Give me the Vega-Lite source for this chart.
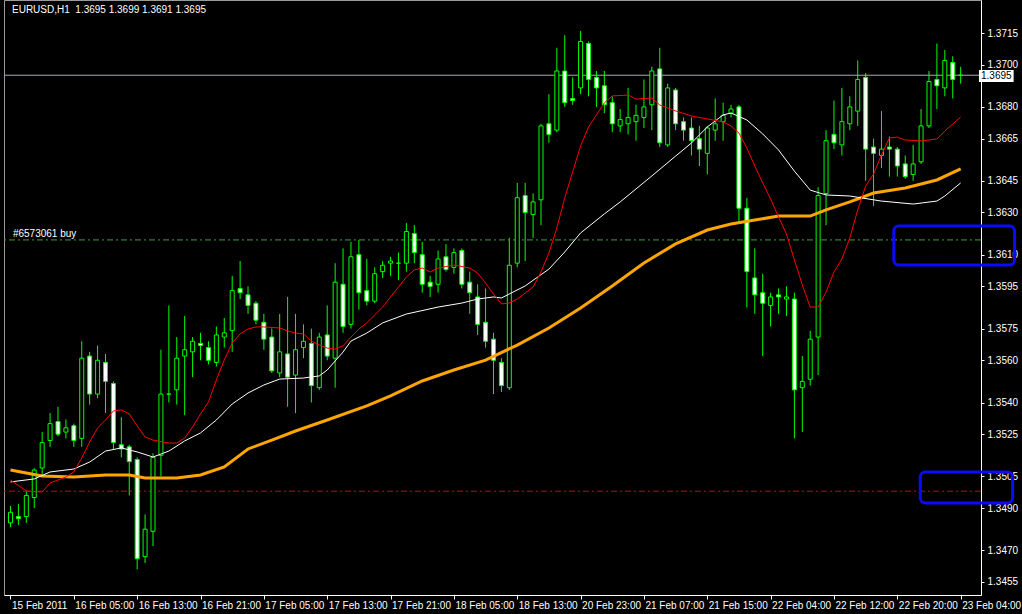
{
"$schema": "https://vega.github.io/schema/vega-lite/v6.json",
"width": 977, "height": 595,
"autosize": {"type": "none"},
"padding": {"left": 4, "top": 0, "right": 41, "bottom": 19},
"background": "#000000",
"config": {
 "view": {"stroke": "#9a9a9a", "strokeWidth": 1},
 "axis": {"grid": false, "labelFont": "Liberation Sans", "labelFontSize": 10, "labelColor": "#ffffff", "tickColor": "#ffffff", "domainColor": "#ffffff", "labelOverlap": false, "labelFlush": false, "labelBound": false},
 "axisY": {"labelOverlap": false},
 "axisRight": {"labelOverlap": false},
 "axisQuantitative": {"labelOverlap": false},
 "text": {"font": "Liberation Sans"}
},
"datasets": {
 "bars": [
{"i":0,"o":1.3483,"h":1.3491,"l":1.3481,"c":1.3488},
{"i":1,"o":1.3486,"h":1.3492,"l":1.3482,"c":1.3485},
{"i":2,"o":1.3486,"h":1.3498,"l":1.3483,"c":1.3496},
{"i":3,"o":1.3495,"h":1.3509,"l":1.3490,"c":1.3508},
{"i":4,"o":1.3509,"h":1.3526,"l":1.3505,"c":1.3521},
{"i":5,"o":1.3522,"h":1.3535,"l":1.3519,"c":1.3530},
{"i":6,"o":1.3531,"h":1.3538,"l":1.3524,"c":1.3525},
{"i":7,"o":1.3526,"h":1.3532,"l":1.3523,"c":1.3528},
{"i":8,"o":1.3529,"h":1.3530,"l":1.3519,"c":1.3522},
{"i":9,"o":1.3523,"h":1.3569,"l":1.3519,"c":1.3561},
{"i":10,"o":1.3562,"h":1.3564,"l":1.3539,"c":1.3544},
{"i":11,"o":1.3544,"h":1.3567,"l":1.3542,"c":1.3560},
{"i":12,"o":1.3559,"h":1.3563,"l":1.3535,"c":1.3550},
{"i":13,"o":1.3549,"h":1.3550,"l":1.3518,"c":1.3521},
{"i":14,"o":1.3520,"h":1.3533,"l":1.3514,"c":1.3518},
{"i":15,"o":1.3519,"h":1.3520,"l":1.3496,"c":1.3512},
{"i":16,"o":1.3513,"h":1.3514,"l":1.3461,"c":1.3466},
{"i":17,"o":1.3467,"h":1.3487,"l":1.3464,"c":1.3480},
{"i":18,"o":1.3479,"h":1.3516,"l":1.3472,"c":1.3514},
{"i":19,"o":1.3515,"h":1.3565,"l":1.3505,"c":1.3544},
{"i":20,"o":1.3544,"h":1.3586,"l":1.3540,"c":1.3544},
{"i":21,"o":1.3546,"h":1.3571,"l":1.3539,"c":1.3561},
{"i":22,"o":1.3562,"h":1.3581,"l":1.3534,"c":1.3565},
{"i":23,"o":1.3564,"h":1.3571,"l":1.3552,"c":1.3569},
{"i":24,"o":1.3568,"h":1.3573,"l":1.3560,"c":1.3567},
{"i":25,"o":1.3566,"h":1.3569,"l":1.3558,"c":1.3560},
{"i":26,"o":1.3559,"h":1.3576,"l":1.3557,"c":1.3572},
{"i":27,"o":1.3571,"h":1.3580,"l":1.3566,"c":1.3573},
{"i":28,"o":1.3574,"h":1.3600,"l":1.3564,"c":1.3593},
{"i":29,"o":1.3594,"h":1.3607,"l":1.3589,"c":1.3592},
{"i":30,"o":1.3591,"h":1.3595,"l":1.3582,"c":1.3586},
{"i":31,"o":1.3587,"h":1.3588,"l":1.3577,"c":1.3579},
{"i":32,"o":1.3578,"h":1.3582,"l":1.3565,"c":1.3570},
{"i":33,"o":1.3571,"h":1.3575,"l":1.3554,"c":1.3555},
{"i":34,"o":1.3554,"h":1.3582,"l":1.3552,"c":1.3564},
{"i":35,"o":1.3563,"h":1.3590,"l":1.3538,"c":1.3552},
{"i":36,"o":1.3553,"h":1.3582,"l":1.3535,"c":1.3565},
{"i":37,"o":1.3566,"h":1.3577,"l":1.3561,"c":1.3569},
{"i":38,"o":1.3568,"h":1.3575,"l":1.3540,"c":1.3548},
{"i":39,"o":1.3547,"h":1.3573,"l":1.3546,"c":1.3571},
{"i":40,"o":1.3572,"h":1.3586,"l":1.3560,"c":1.3562},
{"i":41,"o":1.3561,"h":1.3606,"l":1.3547,"c":1.3597},
{"i":42,"o":1.3596,"h":1.3613,"l":1.3573,"c":1.3576},
{"i":43,"o":1.3577,"h":1.3616,"l":1.3575,"c":1.3609},
{"i":44,"o":1.3610,"h":1.3617,"l":1.3584,"c":1.3592},
{"i":45,"o":1.3593,"h":1.3608,"l":1.3586,"c":1.3588},
{"i":46,"o":1.3588,"h":1.3604,"l":1.3587,"c":1.3601},
{"i":47,"o":1.3602,"h":1.3607,"l":1.3599,"c":1.3605},
{"i":48,"o":1.3606,"h":1.3609,"l":1.3600,"c":1.3607},
{"i":49,"o":1.3606,"h":1.3611,"l":1.3598,"c":1.3606},
{"i":50,"o":1.3606,"h":1.3625,"l":1.3602,"c":1.3621},
{"i":51,"o":1.3620,"h":1.3624,"l":1.3606,"c":1.3611},
{"i":52,"o":1.3610,"h":1.3616,"l":1.3592,"c":1.3596},
{"i":53,"o":1.3597,"h":1.3600,"l":1.3590,"c":1.3595},
{"i":54,"o":1.3596,"h":1.3612,"l":1.3592,"c":1.3608},
{"i":55,"o":1.3609,"h":1.3615,"l":1.3602,"c":1.3603},
{"i":56,"o":1.3604,"h":1.3613,"l":1.3601,"c":1.3611},
{"i":57,"o":1.3612,"h":1.3613,"l":1.3594,"c":1.3596},
{"i":58,"o":1.3597,"h":1.3602,"l":1.3582,"c":1.3592},
{"i":59,"o":1.3590,"h":1.3596,"l":1.3572,"c":1.3577},
{"i":60,"o":1.3578,"h":1.3594,"l":1.3566,"c":1.3569},
{"i":61,"o":1.3570,"h":1.3573,"l":1.3544,"c":1.3560},
{"i":62,"o":1.3559,"h":1.3561,"l":1.3545,"c":1.3548},
{"i":63,"o":1.3547,"h":1.3618,"l":1.3546,"c":1.3605},
{"i":64,"o":1.3606,"h":1.3644,"l":1.3604,"c":1.3637},
{"i":65,"o":1.3638,"h":1.3644,"l":1.3607,"c":1.3630},
{"i":66,"o":1.3629,"h":1.3639,"l":1.3618,"c":1.3635},
{"i":67,"o":1.3636,"h":1.3672,"l":1.3624,"c":1.3671},
{"i":68,"o":1.3672,"h":1.3686,"l":1.3663,"c":1.3667},
{"i":69,"o":1.3669,"h":1.3708,"l":1.3668,"c":1.3697},
{"i":70,"o":1.3697,"h":1.3714,"l":1.3680,"c":1.3682},
{"i":71,"o":1.3684,"h":1.3694,"l":1.3681,"c":1.3683},
{"i":72,"o":1.3689,"h":1.3716,"l":1.3686,"c":1.3711},
{"i":73,"o":1.3710,"h":1.3711,"l":1.3685,"c":1.3693},
{"i":74,"o":1.3694,"h":1.3697,"l":1.3680,"c":1.3689},
{"i":75,"o":1.3690,"h":1.3697,"l":1.3677,"c":1.3681},
{"i":76,"o":1.3682,"h":1.3685,"l":1.3668,"c":1.3672},
{"i":77,"o":1.3671,"h":1.3679,"l":1.3668,"c":1.3674},
{"i":78,"o":1.3672,"h":1.3689,"l":1.3667,"c":1.3675},
{"i":79,"o":1.3673,"h":1.3681,"l":1.3664,"c":1.3676},
{"i":80,"o":1.3675,"h":1.3693,"l":1.3670,"c":1.3680},
{"i":81,"o":1.3681,"h":1.3699,"l":1.3669,"c":1.3697},
{"i":82,"o":1.3698,"h":1.3708,"l":1.3661,"c":1.3663},
{"i":83,"o":1.3662,"h":1.3691,"l":1.3661,"c":1.3689},
{"i":84,"o":1.3688,"h":1.3689,"l":1.3669,"c":1.3672},
{"i":85,"o":1.3673,"h":1.3675,"l":1.3664,"c":1.3669},
{"i":86,"o":1.3670,"h":1.3675,"l":1.3657,"c":1.3664},
{"i":87,"o":1.3665,"h":1.3671,"l":1.3652,"c":1.3660},
{"i":88,"o":1.3658,"h":1.3671,"l":1.3648,"c":1.3670},
{"i":89,"o":1.3669,"h":1.3684,"l":1.3664,"c":1.3672},
{"i":90,"o":1.3673,"h":1.3682,"l":1.3664,"c":1.3676},
{"i":91,"o":1.3677,"h":1.3681,"l":1.3675,"c":1.3679},
{"i":92,"o":1.3680,"h":1.3681,"l":1.3625,"c":1.3632},
{"i":93,"o":1.3632,"h":1.3637,"l":1.3585,"c":1.3602},
{"i":94,"o":1.3599,"h":1.3613,"l":1.3582,"c":1.3591},
{"i":95,"o":1.3592,"h":1.3601,"l":1.3562,"c":1.3587},
{"i":96,"o":1.3586,"h":1.3592,"l":1.3576,"c":1.3590},
{"i":97,"o":1.3591,"h":1.3594,"l":1.3582,"c":1.3590},
{"i":98,"o":1.3589,"h":1.3595,"l":1.3581,"c":1.3590},
{"i":99,"o":1.3589,"h":1.3592,"l":1.3523,"c":1.3546},
{"i":100,"o":1.3547,"h":1.3562,"l":1.3526,"c":1.3550},
{"i":101,"o":1.3551,"h":1.3574,"l":1.3548,"c":1.3570},
{"i":102,"o":1.3571,"h":1.3642,"l":1.3553,"c":1.3638},
{"i":103,"o":1.3639,"h":1.3669,"l":1.3624,"c":1.3664},
{"i":104,"o":1.3667,"h":1.3683,"l":1.3660,"c":1.3663},
{"i":105,"o":1.3662,"h":1.3689,"l":1.3657,"c":1.3673},
{"i":106,"o":1.3672,"h":1.3685,"l":1.3669,"c":1.3680},
{"i":107,"o":1.3678,"h":1.3702,"l":1.3671,"c":1.3693},
{"i":108,"o":1.3694,"h":1.3696,"l":1.3645,"c":1.3660},
{"i":109,"o":1.3661,"h":1.3665,"l":1.3633,"c":1.3658},
{"i":110,"o":1.3657,"h":1.3678,"l":1.3651,"c":1.3660},
{"i":111,"o":1.3661,"h":1.3666,"l":1.3647,"c":1.3660},
{"i":112,"o":1.3660,"h":1.3661,"l":1.3647,"c":1.3652},
{"i":113,"o":1.3653,"h":1.3657,"l":1.3646,"c":1.3647},
{"i":114,"o":1.3648,"h":1.3662,"l":1.3645,"c":1.3653},
{"i":115,"o":1.3654,"h":1.3679,"l":1.3653,"c":1.3671},
{"i":116,"o":1.3671,"h":1.3697,"l":1.3670,"c":1.3692},
{"i":117,"o":1.3693,"h":1.3710,"l":1.3679,"c":1.3690},
{"i":118,"o":1.3689,"h":1.3707,"l":1.3685,"c":1.3702},
{"i":119,"o":1.3701,"h":1.3704,"l":1.3684,"c":1.3693},
{"i":120,"o":1.3695,"h":1.3699,"l":1.3691,"c":1.3695}
 ],
 "ma": [
{"s":"slow","i":0,"v":1.35080},{"s":"slow","i":4,"v":1.35052},{"s":"slow","i":8,"v":1.35047},{"s":"slow","i":12,"v":1.35057},{"s":"slow","i":15,"v":1.35057},{"s":"slow","i":17,"v":1.35043},{"s":"slow","i":21,"v":1.35043},{"s":"slow","i":24,"v":1.35057},{"s":"slow","i":27,"v":1.35095},{"s":"slow","i":30,"v":1.35180},{"s":"slow","i":33,"v":1.35222},{"s":"slow","i":36,"v":1.35265},{"s":"slow","i":40,"v":1.35317},{"s":"slow","i":45,"v":1.35384},{"s":"slow","i":48,"v":1.35431},{"s":"slow","i":52,"v":1.35502},{"s":"slow","i":56,"v":1.35554},{"s":"slow","i":60,"v":1.35601},{"s":"slow","i":64,"v":1.35672},{"s":"slow","i":68,"v":1.35753},{"s":"slow","i":72,"v":1.35848},{"s":"slow","i":76,"v":1.35952},{"s":"slow","i":80,"v":1.36061},{"s":"slow","i":84,"v":1.36151},{"s":"slow","i":88,"v":1.36217},{"s":"slow","i":91,"v":1.36245},{"s":"slow","i":94,"v":1.36264},{"s":"slow","i":97,"v":1.36283},{"s":"slow","i":101,"v":1.36283},{"s":"slow","i":103,"v":1.36312},{"s":"slow","i":106,"v":1.36350},{"s":"slow","i":109,"v":1.36392},{"s":"slow","i":113,"v":1.36416},{"s":"slow","i":117,"v":1.36454},{"s":"slow","i":120,"v":1.36506},
{"s":"mid","i":0,"v":1.35024},{"s":"mid","i":3,"v":1.35038},{"s":"mid","i":5,"v":1.35071},{"s":"mid","i":8,"v":1.35085},{"s":"mid","i":10,"v":1.35118},{"s":"mid","i":12,"v":1.35170},{"s":"mid","i":14,"v":1.35185},{"s":"mid","i":16,"v":1.35166},{"s":"mid","i":18,"v":1.35142},{"s":"mid","i":20,"v":1.35170},{"s":"mid","i":22,"v":1.35218},{"s":"mid","i":24,"v":1.35256},{"s":"mid","i":26,"v":1.35317},{"s":"mid","i":28,"v":1.35393},{"s":"mid","i":30,"v":1.35445},{"s":"mid","i":32,"v":1.35483},{"s":"mid","i":34,"v":1.35511},{"s":"mid","i":37,"v":1.35516},{"s":"mid","i":39,"v":1.35526},{"s":"mid","i":40,"v":1.35554},{"s":"mid","i":42,"v":1.35639},{"s":"mid","i":43,"v":1.35691},{"s":"mid","i":45,"v":1.35729},{"s":"mid","i":47,"v":1.35777},{"s":"mid","i":50,"v":1.35819},{"s":"mid","i":54,"v":1.35852},{"s":"mid","i":57,"v":1.35871},{"s":"mid","i":59,"v":1.35890},{"s":"mid","i":61,"v":1.35900},{"s":"mid","i":62,"v":1.35895},{"s":"mid","i":63,"v":1.35914},{"s":"mid","i":65,"v":1.35952},{"s":"mid","i":68,"v":1.36032},{"s":"mid","i":70,"v":1.36113},{"s":"mid","i":72,"v":1.36203},{"s":"mid","i":75,"v":1.36293},{"s":"mid","i":77,"v":1.36350},{"s":"mid","i":81,"v":1.36473},{"s":"mid","i":84,"v":1.36567},{"s":"mid","i":86,"v":1.36629},{"s":"mid","i":88,"v":1.36705},{"s":"mid","i":90,"v":1.36762},{"s":"mid","i":91,"v":1.36771},{"s":"mid","i":93,"v":1.36738},{"s":"mid","i":95,"v":1.36672},{"s":"mid","i":97,"v":1.36596},{"s":"mid","i":99,"v":1.36496},{"s":"mid","i":101,"v":1.36406},{"s":"mid","i":103,"v":1.36383},{"s":"mid","i":106,"v":1.36378},{"s":"mid","i":110,"v":1.36354},{"s":"mid","i":114,"v":1.36340},{"s":"mid","i":117,"v":1.36354},{"s":"mid","i":118,"v":1.36378},{"s":"mid","i":120,"v":1.36440},
{"s":"fast","i":0,"v":1.35033},{"s":"fast","i":2,"v":1.34981},{"s":"fast","i":4,"v":1.34976},{"s":"fast","i":5,"v":1.35019},{"s":"fast","i":7,"v":1.35047},{"s":"fast","i":8,"v":1.35071},{"s":"fast","i":9,"v":1.35137},{"s":"fast","i":10,"v":1.35213},{"s":"fast","i":11,"v":1.35279},{"s":"fast","i":12,"v":1.35317},{"s":"fast","i":13,"v":1.35360},{"s":"fast","i":14,"v":1.35365},{"s":"fast","i":15,"v":1.35346},{"s":"fast","i":16,"v":1.35289},{"s":"fast","i":17,"v":1.35237},{"s":"fast","i":18,"v":1.35222},{"s":"fast","i":20,"v":1.35208},{"s":"fast","i":21,"v":1.35208},{"s":"fast","i":22,"v":1.35232},{"s":"fast","i":23,"v":1.35284},{"s":"fast","i":24,"v":1.35346},{"s":"fast","i":25,"v":1.35402},{"s":"fast","i":26,"v":1.35507},{"s":"fast","i":27,"v":1.35601},{"s":"fast","i":28,"v":1.35682},{"s":"fast","i":29,"v":1.35725},{"s":"fast","i":30,"v":1.35748},{"s":"fast","i":31,"v":1.35758},{"s":"fast","i":32,"v":1.35758},{"s":"fast","i":34,"v":1.35753},{"s":"fast","i":35,"v":1.35739},{"s":"fast","i":36,"v":1.35729},{"s":"fast","i":37,"v":1.35725},{"s":"fast","i":38,"v":1.35691},{"s":"fast","i":39,"v":1.35672},{"s":"fast","i":40,"v":1.35658},{"s":"fast","i":41,"v":1.35653},{"s":"fast","i":42,"v":1.35668},{"s":"fast","i":43,"v":1.35710},{"s":"fast","i":44,"v":1.35748},{"s":"fast","i":45,"v":1.35777},{"s":"fast","i":46,"v":1.35815},{"s":"fast","i":47,"v":1.35852},{"s":"fast","i":48,"v":1.35900},{"s":"fast","i":49,"v":1.35947},{"s":"fast","i":50,"v":1.35994},{"s":"fast","i":51,"v":1.36028},{"s":"fast","i":52,"v":1.36037},{"s":"fast","i":53,"v":1.36018},{"s":"fast","i":54,"v":1.36037},{"s":"fast","i":56,"v":1.36051},{"s":"fast","i":58,"v":1.36037},{"s":"fast","i":59,"v":1.36013},{"s":"fast","i":60,"v":1.35966},{"s":"fast","i":61,"v":1.35914},{"s":"fast","i":62,"v":1.35867},{"s":"fast","i":63,"v":1.35871},{"s":"fast","i":64,"v":1.35890},{"s":"fast","i":66,"v":1.35947},{"s":"fast","i":67,"v":1.36018},{"s":"fast","i":68,"v":1.36108},{"s":"fast","i":69,"v":1.36227},{"s":"fast","i":70,"v":1.36369},{"s":"fast","i":71,"v":1.36492},{"s":"fast","i":72,"v":1.36615},{"s":"fast","i":73,"v":1.36705},{"s":"fast","i":74,"v":1.36762},{"s":"fast","i":75,"v":1.36819},{"s":"fast","i":76,"v":1.36852},{"s":"fast","i":78,"v":1.36856},{"s":"fast","i":79,"v":1.36837},{"s":"fast","i":81,"v":1.36842},{"s":"fast","i":82,"v":1.36809},{"s":"fast","i":84,"v":1.36781},{"s":"fast","i":86,"v":1.36757},{"s":"fast","i":88,"v":1.36743},{"s":"fast","i":90,"v":1.36729},{"s":"fast","i":91,"v":1.36710},{"s":"fast","i":92,"v":1.36676},{"s":"fast","i":93,"v":1.36605},{"s":"fast","i":94,"v":1.36520},{"s":"fast","i":95,"v":1.36440},{"s":"fast","i":96,"v":1.36364},{"s":"fast","i":97,"v":1.36279},{"s":"fast","i":98,"v":1.36198},{"s":"fast","i":99,"v":1.36075},{"s":"fast","i":100,"v":1.35957},{"s":"fast","i":101,"v":1.35852},{"s":"fast","i":102,"v":1.35852},{"s":"fast","i":103,"v":1.35923},{"s":"fast","i":104,"v":1.36018},{"s":"fast","i":105,"v":1.36080},{"s":"fast","i":106,"v":1.36179},{"s":"fast","i":107,"v":1.36312},{"s":"fast","i":108,"v":1.36425},{"s":"fast","i":109,"v":1.36482},{"s":"fast","i":110,"v":1.36572},{"s":"fast","i":111,"v":1.36653},{"s":"fast","i":112,"v":1.36657},{"s":"fast","i":113,"v":1.36643},{"s":"fast","i":115,"v":1.36639},{"s":"fast","i":117,"v":1.36648},{"s":"fast","i":118,"v":1.36686},{"s":"fast","i":120,"v":1.36752}
 ],
 "levels": [
  {"k":"bid","p":1.3695},
  {"k":"buy","p":1.3617},
  {"k":"sl","p":1.3498}
 ],
 "notes": [
  {"i":0.19,"p":1.37259,"t":"EURUSD,H1\u00a0 1.3695 1.3699 1.3691 1.3695"},
  {"i":0.31,"p":1.36196,"t":"#6573061 buy"}
 ],
 "pricebox": [
  {"i":122.31,"i2":126.69,"p":1.36975,"p2":1.36918,"pm":1.36946,"im":124.5,"t":"1.3695"}
 ],
 "boxes": [
  {"i":111.56,"i2":126.81,"p":1.36236,"p2":1.36051},
  {"i":114.9,"i2":126.56,"p":1.35071,"p2":1.34924}
 ]
},
"layer": [
 {
  "data": {"name": "bars"},
  "mark": {"type": "rule", "color": "#00ff00", "strokeWidth": 1},
  "encoding": {
   "x": {"field": "i", "type": "quantitative", "title": null,
         "scale": {"domain": [-0.1875, 121.9375], "nice": false, "zero": false},
         "axis": {"orient": "bottom", "values": [0,8,16,24,32,40,48,56,64,72,80,88,96,104,112,120],
                  "labelExpr": "['15 Feb 2011','16 Feb 05:00','16 Feb 13:00','16 Feb 21:00','17 Feb 05:00','17 Feb 13:00','17 Feb 21:00','18 Feb 05:00','18 Feb 13:00','20 Feb 23:00','21 Feb 07:00','21 Feb 15:00','22 Feb 04:00','22 Feb 12:00','22 Feb 20:00','23 Feb 04:00'][round(datum.value/8)]",
                  "labelAlign": "left", "labelBaseline": "top", "labelPadding": 1, "labelOffset": 1, "tickSize": 4, "title": null, "labelOverlap": false}},
   "y": {"field": "l", "type": "quantitative", "title": null,
         "scale": {"domain": [1.344884, 1.373063], "nice": false, "zero": false},
         "axis": {"orient": "right", "values": [1.3715,1.37,1.368,1.3665,1.3645,1.363,1.361,1.3595,1.3575,1.356,1.354,1.3525,1.3505,1.349,1.347,1.3455],
                  "format": ".4f", "tickSize": 3, "labelPadding": 3, "labelBaseline": "middle", "title": null, "labelOverlap": false}},
   "y2": {"field": "h"}
  }
 },
 {
  "data": {"name": "levels"},
  "transform": [{"filter": "datum.k == 'bid'"}],
  "mark": {"type": "rule", "color": "#a8a8b8", "strokeWidth": 1},
  "encoding": {"y": {"field": "p", "type": "quantitative", "title": null, "scale": {"domain": [1.344884, 1.373063], "nice": false, "zero": false},
   "axis": {"orient": "right", "values": [1.3715,1.37,1.368,1.3665,1.3645,1.363,1.361,1.3595,1.3575,1.356,1.354,1.3525,1.3505,1.349,1.347,1.3455], "format": ".4f", "tickSize": 3, "labelPadding": 3, "labelBaseline": "middle", "title": null, "labelOverlap": false}}}
 },
 {
  "data": {"name": "levels"},
  "transform": [{"filter": "datum.k == 'buy'"}],
  "mark": {"type": "rule", "color": "#3aa03a", "strokeWidth": 1, "strokeDash": [6,3,2,3]},
  "encoding": {"y": {"field": "p", "type": "quantitative", "title": null, "scale": {"domain": [1.344884, 1.373063], "nice": false, "zero": false},
   "axis": {"orient": "right", "values": [1.3715,1.37,1.368,1.3665,1.3645,1.363,1.361,1.3595,1.3575,1.356,1.354,1.3525,1.3505,1.349,1.347,1.3455], "format": ".4f", "tickSize": 3, "labelPadding": 3, "labelBaseline": "middle", "title": null, "labelOverlap": false}}}
 },
 {
  "data": {"name": "levels"},
  "transform": [{"filter": "datum.k == 'sl'"}],
  "mark": {"type": "rule", "color": "#c80000", "strokeWidth": 1, "strokeDash": [6,3,2,3]},
  "encoding": {"y": {"field": "p", "type": "quantitative", "title": null, "scale": {"domain": [1.344884, 1.373063], "nice": false, "zero": false},
   "axis": {"orient": "right", "values": [1.3715,1.37,1.368,1.3665,1.3645,1.363,1.361,1.3595,1.3575,1.356,1.354,1.3525,1.3505,1.349,1.347,1.3455], "format": ".4f", "tickSize": 3, "labelPadding": 3, "labelBaseline": "middle", "title": null, "labelOverlap": false}}}
 },
 {
  "data": {"name": "bars"},
  "mark": {"type": "bar", "size": 4, "stroke": "#00ff00", "strokeWidth": 1},
  "encoding": {
   "x": {"field": "i", "type": "quantitative", "title": null, "scale": {"domain": [-0.1875, 121.9375], "nice": false, "zero": false}},
   "y": {"field": "o", "type": "quantitative", "title": null, "scale": {"domain": [1.344884, 1.373063], "nice": false, "zero": false},
   "axis": {"orient": "right", "values": [1.3715,1.37,1.368,1.3665,1.3645,1.363,1.361,1.3595,1.3575,1.356,1.354,1.3525,1.3505,1.349,1.347,1.3455], "format": ".4f", "tickSize": 3, "labelPadding": 3, "labelBaseline": "middle", "title": null, "labelOverlap": false}},
   "y2": {"field": "c"},
   "fill": {"condition": {"test": "datum.o > datum.c", "value": "#ffffff"}, "value": "#000000"}
  }
 },
 {
  "data": {"name": "ma"},
  "transform": [{"filter": "datum.s == 'slow'"}],
  "mark": {"type": "line", "interpolate": "linear", "color": "#ffa500", "strokeWidth": 3},
  "encoding": {
   "x": {"field": "i", "type": "quantitative", "title": null, "scale": {"domain": [-0.1875, 121.9375], "nice": false, "zero": false}},
   "y": {"field": "v", "type": "quantitative", "title": null, "scale": {"domain": [1.344884, 1.373063], "nice": false, "zero": false},
   "axis": {"orient": "right", "values": [1.3715,1.37,1.368,1.3665,1.3645,1.363,1.361,1.3595,1.3575,1.356,1.354,1.3525,1.3505,1.349,1.347,1.3455], "format": ".4f", "tickSize": 3, "labelPadding": 3, "labelBaseline": "middle", "title": null, "labelOverlap": false}}
  }
 },
 {
  "data": {"name": "ma"},
  "transform": [{"filter": "datum.s == 'mid'"}],
  "mark": {"type": "line", "interpolate": "linear", "color": "#ffffff", "strokeWidth": 1},
  "encoding": {
   "x": {"field": "i", "type": "quantitative", "title": null, "scale": {"domain": [-0.1875, 121.9375], "nice": false, "zero": false}},
   "y": {"field": "v", "type": "quantitative", "title": null, "scale": {"domain": [1.344884, 1.373063], "nice": false, "zero": false},
   "axis": {"orient": "right", "values": [1.3715,1.37,1.368,1.3665,1.3645,1.363,1.361,1.3595,1.3575,1.356,1.354,1.3525,1.3505,1.349,1.347,1.3455], "format": ".4f", "tickSize": 3, "labelPadding": 3, "labelBaseline": "middle", "title": null, "labelOverlap": false}}
  }
 },
 {
  "data": {"name": "ma"},
  "transform": [{"filter": "datum.s == 'fast'"}],
  "mark": {"type": "line", "interpolate": "linear", "color": "#ff0000", "strokeWidth": 1},
  "encoding": {
   "x": {"field": "i", "type": "quantitative", "title": null, "scale": {"domain": [-0.1875, 121.9375], "nice": false, "zero": false}},
   "y": {"field": "v", "type": "quantitative", "title": null, "scale": {"domain": [1.344884, 1.373063], "nice": false, "zero": false},
   "axis": {"orient": "right", "values": [1.3715,1.37,1.368,1.3665,1.3645,1.363,1.361,1.3595,1.3575,1.356,1.354,1.3525,1.3505,1.349,1.347,1.3455], "format": ".4f", "tickSize": 3, "labelPadding": 3, "labelBaseline": "middle", "title": null, "labelOverlap": false}}
  }
 },
 {
  "data": {"name": "notes"},
  "mark": {"type": "text", "align": "left", "baseline": "middle", "color": "#ffffff", "fontSize": 10, "font": "Liberation Sans"},
  "encoding": {
   "x": {"field": "i", "type": "quantitative", "title": null, "scale": {"domain": [-0.1875, 121.9375], "nice": false, "zero": false}},
   "y": {"field": "p", "type": "quantitative", "title": null, "scale": {"domain": [1.344884, 1.373063], "nice": false, "zero": false},
   "axis": {"orient": "right", "values": [1.3715,1.37,1.368,1.3665,1.3645,1.363,1.361,1.3595,1.3575,1.356,1.354,1.3525,1.3505,1.349,1.347,1.3455], "format": ".4f", "tickSize": 3, "labelPadding": 3, "labelBaseline": "middle", "title": null, "labelOverlap": false}},
   "text": {"field": "t"}
  }
 },
 {
  "data": {"name": "pricebox"},
  "mark": {"type": "rect", "color": "#ffffff"},
  "encoding": {
   "x": {"field": "i", "type": "quantitative", "title": null, "scale": {"domain": [-0.1875, 121.9375], "nice": false, "zero": false}},
   "x2": {"field": "i2"},
   "y": {"field": "p", "type": "quantitative", "title": null, "scale": {"domain": [1.344884, 1.373063], "nice": false, "zero": false},
   "axis": {"orient": "right", "values": [1.3715,1.37,1.368,1.3665,1.3645,1.363,1.361,1.3595,1.3575,1.356,1.354,1.3525,1.3505,1.349,1.347,1.3455], "format": ".4f", "tickSize": 3, "labelPadding": 3, "labelBaseline": "middle", "title": null, "labelOverlap": false}},
   "y2": {"field": "p2"}
  }
 },
 {
  "data": {"name": "pricebox"},
  "mark": {"type": "text", "align": "center", "baseline": "middle", "color": "#000000", "fontSize": 10, "font": "Liberation Sans"},
  "encoding": {
   "x": {"field": "im", "type": "quantitative", "title": null, "scale": {"domain": [-0.1875, 121.9375], "nice": false, "zero": false}},
   "y": {"field": "pm", "type": "quantitative", "title": null, "scale": {"domain": [1.344884, 1.373063], "nice": false, "zero": false},
   "axis": {"orient": "right", "values": [1.3715,1.37,1.368,1.3665,1.3645,1.363,1.361,1.3595,1.3575,1.356,1.354,1.3525,1.3505,1.349,1.347,1.3455], "format": ".4f", "tickSize": 3, "labelPadding": 3, "labelBaseline": "middle", "title": null, "labelOverlap": false}},
   "text": {"field": "t"}
  }
 },
 {
  "data": {"name": "boxes"},
  "mark": {"type": "rect", "fill": null, "fillOpacity": 0, "stroke": "#0a0aff", "strokeWidth": 3, "cornerRadius": 5},
  "encoding": {
   "x": {"field": "i", "type": "quantitative", "title": null, "scale": {"domain": [-0.1875, 121.9375], "nice": false, "zero": false}},
   "x2": {"field": "i2"},
   "y": {"field": "p", "type": "quantitative", "title": null, "scale": {"domain": [1.344884, 1.373063], "nice": false, "zero": false},
   "axis": {"orient": "right", "values": [1.3715,1.37,1.368,1.3665,1.3645,1.363,1.361,1.3595,1.3575,1.356,1.354,1.3525,1.3505,1.349,1.347,1.3455], "format": ".4f", "tickSize": 3, "labelPadding": 3, "labelBaseline": "middle", "title": null, "labelOverlap": false}},
   "y2": {"field": "p2"}
  }
 }
]
}
